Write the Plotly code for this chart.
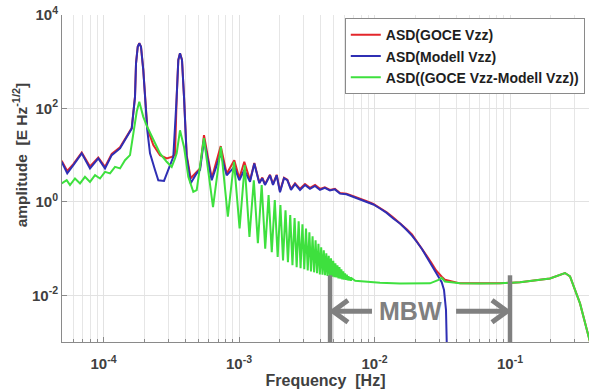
import math
import plotly.graph_objects as go

# ---------------- data ----------------
freq_model = [4.91e-5, 5.40e-5, 5.99e-5, 6.91e-5, 7.95e-5, 9.15e-5, 1.026e-4, 1.15e-4, 1.324e-4,
              1.524e-4, 1.615e-4, 1.708e-4, 1.738e-4, 1.789e-4, 1.837e-4, 1.891e-4, 1.946e-4,
              1.966e-4, 2.105e-4, 2.204e-4, 2.40e-4, 2.538e-4, 2.796e-4, 3.008e-4, 3.275e-4,
              3.469e-4, 3.565e-4, 3.669e-4, 3.796e-4, 3.928e-4, 4.11e-4, 4.40e-4, 4.874e-4,
              5.155e-4, 5.516e-4, 6.29e-4, 7.33e-4, 8.11e-4, 9.23e-4, 1.005e-3, 1.094e-3,
              1.206e-3, 1.297e-3, 1.412e-3, 1.486e-3, 1.556e-3, 1.693e-3, 1.782e-3, 1.897e-3,
              2.007e-3, 2.148e-3, 2.273e-3, 2.42e-3, 2.591e-3, 2.82e-3, 3.07e-3, 3.34e-3,
              3.64e-3, 3.96e-3, 4.30e-3, 4.69e-3, 5.10e-3, 5.565e-3, 6.2e-3, 6.975e-3, 7.8e-3,
              8.76e-3, 9.8e-3, 1.098e-2, 1.23e-2, 1.376e-2, 1.55e-2, 1.728e-2, 1.89e-2,
              2.048e-2, 2.24e-2, 2.428e-2, 2.62e-2, 2.796e-2, 2.98e-2, 3.133e-2, 3.258e-2,
              3.37e-2, 3.43e-2]
amp_model = [7.2, 4.1, 6.1, 10.9, 5.2, 8.5, 5.2, 10.0, 13.9,
             29, 37, 177, 923, 2090, 2480, 2090, 923,
             664, 34, 10.9, 4.8, 2.9, 2.8, 4.8, 9.2,
             177, 1085, 1510, 1085, 177, 9.2, 2.5, 4.1,
             4.8, 21, 2.9, 10.9, 3.7, 5.6, 2.9, 4.8,
             2.7, 6.6, 2.5, 3.2, 2.3, 3.7, 2.3, 3.7,
             1.6, 3.2, 2.9, 1.8, 2.4, 1.8, 2.3, 1.9,
             2.2, 1.8, 2.0, 1.75, 1.85, 1.5, 1.45, 1.28, 1.15,
             1.0, 0.88, 0.72, 0.58, 0.44, 0.34, 0.25, 0.19,
             0.14, 0.098, 0.066, 0.046, 0.032, 0.024, 0.019, 0.013,
             0.0048, 0.0005]

freq_goce = [4.91e-5, 5.40e-5, 5.99e-5, 6.91e-5, 7.95e-5, 9.15e-5, 1.026e-4, 1.15e-4, 1.324e-4,
             1.524e-4, 1.615e-4, 1.708e-4, 1.738e-4, 1.789e-4, 1.837e-4, 1.891e-4, 1.946e-4,
             1.966e-4, 2.105e-4, 2.331e-4, 2.612e-4, 2.927e-4, 3.187e-4, 3.371e-4, 3.469e-4,
             3.565e-4, 3.669e-4, 3.796e-4, 3.928e-4, 4.11e-4, 4.40e-4, 4.874e-4, 5.155e-4,
             5.516e-4, 6.29e-4, 7.33e-4, 8.11e-4, 9.23e-4, 1.005e-3, 1.094e-3, 1.206e-3,
             1.297e-3, 1.412e-3, 1.486e-3, 1.556e-3, 1.693e-3, 1.782e-3, 1.897e-3, 2.007e-3,
             2.148e-3, 2.273e-3, 2.42e-3, 2.591e-3, 2.82e-3, 3.07e-3, 3.34e-3, 3.64e-3,
             3.96e-3, 4.30e-3, 4.69e-3, 5.10e-3, 5.565e-3, 6.2e-3, 6.975e-3, 7.8e-3, 8.76e-3,
             9.8e-3, 1.098e-2, 1.23e-2, 1.376e-2, 1.55e-2, 1.728e-2, 1.89e-2, 2.048e-2,
             2.24e-2, 2.428e-2, 2.62e-2, 2.85e-2, 3.133e-2, 3.31e-2, 4.28e-2, 6.0e-2,
             8.44e-2, 0.1185, 0.1478, 0.1973, 0.2546, 0.2773, 0.3286, 0.3784, 0.45]
amp_goce = [7.6, 4.6, 6.4, 11.3, 5.7, 8.9, 5.6, 10.6, 14.8,
            30, 38, 180, 930, 2100, 2500, 2100, 930,
            670, 38, 16.4, 10.0, 8.5, 9.2, 10.0, 180,
            1090, 1520, 1090, 180, 10.0, 3.2, 4.4, 5.2,
            26.8, 3.2, 15.6, 4.0, 7.8, 3.2, 7.2, 2.9,
            6.8, 2.6, 3.3, 2.4, 3.8, 2.4, 3.8, 1.7,
            3.3, 3.0, 1.9, 2.5, 1.9, 2.4, 2.0, 2.3,
            1.9, 2.05, 1.8, 1.9, 1.55, 1.5, 1.32, 1.18, 1.03,
            0.9, 0.74, 0.6, 0.46, 0.35, 0.26, 0.2, 0.145,
            0.1, 0.07, 0.05, 0.034, 0.025, 0.0215, 0.018, 0.0178,
            0.018, 0.019, 0.0205, 0.0229, 0.030, 0.0255, 0.0067, 0.0015, 0.0002]

freq_diff = [4.91e-5, 5.35e-5, 5.66e-5, 6.16e-5, 6.71e-5, 7.30e-5, 7.95e-5, 8.66e-5, 9.42e-5,
             1.026e-4, 1.117e-4, 1.216e-4, 1.324e-4, 1.441e-4, 1.569e-4, 1.679e-4, 1.758e-4,
             1.837e-4, 1.923e-4, 1.966e-4, 2.105e-4, 2.331e-4, 2.612e-4, 2.927e-4, 3.187e-4,
             3.371e-4, 3.469e-4, 3.669e-4, 3.928e-4, 4.225e-4, 4.60e-4, 4.874e-4,
             5.51e-4, 6.43e-4, 7.35e-4, 8.27e-4, 9.19e-4, 1.010e-3, 1.102e-3, 1.194e-3,
             1.286e-3, 1.378e-3, 1.470e-3, 1.561e-3, 1.653e-3, 1.745e-3, 1.837e-3, 1.929e-3,
             2.021e-3, 2.113e-3, 2.204e-3, 2.296e-3, 2.388e-3, 2.480e-3, 2.572e-3, 2.664e-3,
             2.756e-3, 2.847e-3, 2.939e-3, 3.031e-3, 3.123e-3, 3.215e-3, 3.307e-3, 3.398e-3,
             3.490e-3, 3.582e-3, 3.674e-3, 3.766e-3, 3.858e-3, 3.950e-3, 4.041e-3, 4.133e-3,
             4.225e-3, 4.317e-3, 4.409e-3, 4.501e-3, 4.593e-3, 4.684e-3, 4.776e-3, 4.868e-3,
             4.960e-3, 5.052e-3, 5.144e-3, 5.235e-3, 5.327e-3, 5.419e-3, 5.511e-3, 5.603e-3,
             5.695e-3, 5.787e-3, 5.878e-3, 5.970e-3, 6.062e-3, 6.154e-3, 6.246e-3, 6.338e-3,
             6.430e-3, 6.521e-3, 6.613e-3, 6.705e-3, 6.797e-3,
             7.2e-3, 8.76e-3, 1.098e-2, 1.542e-2, 2.167e-2, 2.568e-2, 2.94e-2, 3.13e-2,
             3.31e-2, 4.28e-2, 6.0e-2, 8.44e-2, 0.1185, 0.1478, 0.1973, 0.2546, 0.2773,
             0.3286, 0.3784, 0.45]
amp_diff = [2.48, 2.91, 2.28, 3.16, 2.48, 3.43, 2.68, 3.73, 3.16,
            4.39, 4.06, 5.6, 5.2, 7.8, 10.0, 34, 85,
            139, 85, 66, 40, 21, 10.9, 7.2, 5.6,
            8.5, 10.9, 34, 15, 3.43, 1.64, 1.78,
            23, 0.77, 15, 0.48, 7.2, 0.27, 6.1, 0.178,
            2.9, 0.13, 2.3, 0.10, 1.39, 0.084, 1.09, 0.066,
            0.85, 0.056, 0.66, 0.051, 0.52, 0.044, 0.45, 0.040,
            0.385, 0.038, 0.33, 0.036, 0.27, 0.034, 0.224, 0.0325,
            0.184, 0.031, 0.151, 0.0296, 0.127, 0.028, 0.107, 0.0275,
            0.092, 0.0268, 0.079, 0.026, 0.070, 0.0255, 0.062, 0.025,
            0.055, 0.0243, 0.0485, 0.024, 0.044, 0.0231, 0.040, 0.0228,
            0.036, 0.022, 0.0327, 0.0217, 0.0296, 0.0214, 0.0275, 0.021,
            0.0255, 0.0207, 0.0243, 0.0205, 0.0231,
            0.0205, 0.0193, 0.0185, 0.0178, 0.0177, 0.0180, 0.021, 0.0237,
            0.0197, 0.018, 0.0178, 0.018, 0.019, 0.0205, 0.0229, 0.030, 0.0255,
            0.0067, 0.0015, 0.0002]

series_names = ["ASD(GOCE Vzz)", "ASD(Modell Vzz)", "ASD((GOCE Vzz-Modell Vzz))"]
x_tick_vals = [1e-4, 1e-3, 1e-2, 1e-1]
x_tick_text = ["10<sup>-4</sup>", "10<sup>-3</sup>", "10<sup>-2</sup>", "10<sup>-1</sup>"]
y_tick_vals = [1e-2, 1e0, 1e2, 1e4]
y_tick_text = ["10<sup>-2</sup>", "10<sup>0</sup>", "10<sup>2</sup>", "10<sup>4</sup>"]
mbw_lo, mbw_hi = 4.7e-3, 0.1          # measurement bandwidth markers [Hz]
mbw_bar_top = 0.0268                   # top of the MBW bars (amplitude units)
mbw_arrow_y = 0.00455                  # height of the MBW arrows
mbw_left_tail, mbw_right_tail = 9.58e-3, 4.0e-2
mbw_label_x = 1.83e-2

# ---------------- figure ----------------
FONT = "Liberation Sans"
GRAY = "#808080"
fig = go.Figure()
fig.add_trace(go.Scatter(x=freq_goce, y=amp_goce, mode="lines", name=series_names[0],
                         line=dict(color="#e3262b", width=2)))
fig.add_trace(go.Scatter(x=freq_model, y=amp_model, mode="lines", name=series_names[1],
                         line=dict(color="#2f2fb4", width=2)))
fig.add_trace(go.Scatter(x=freq_diff, y=amp_diff, mode="lines", name=series_names[2],
                         line=dict(color="#3ee03e", width=2)))

minor_x = [k * 10.0 ** e for e in range(-5, 0) for k in range(2, 10)]

fig.update_layout(
    width=589, height=392, autosize=False,
    margin=dict(l=62, r=0, t=15, b=50, autoexpand=False),
    paper_bgcolor="white", plot_bgcolor="white",
    font=dict(family=FONT, color="#404040"),
    xaxis=dict(type="log", range=[-4.3063, -0.417], automargin=False,
               showline=True, linecolor="#8a8a8a",
               linewidth=1, ticks="inside", ticklen=5, tickcolor="#8a8a8a",
               showgrid=True, gridcolor="#e2e2e2", gridwidth=1, zeroline=False,
               tickmode="array", tickvals=x_tick_vals, ticktext=x_tick_text,
               ticklabelstandoff=8,
               tickfont=dict(family=FONT, size=15, color="#404040", weight="bold"),
               minor=dict(tickmode="array", tickvals=minor_x, ticks="inside", ticklen=3,
                          tickcolor="#8a8a8a", showgrid=True, gridcolor="#e6e6e6"),
               title=dict(text="Frequency&nbsp; [Hz]", standoff=2,
                          font=dict(family=FONT, size=16, color="#404040", weight="bold"))),
    yaxis=dict(type="log", range=[-3, 4], automargin=False,
               showline=True, linecolor="#8a8a8a",
               linewidth=1, ticks="inside", ticklen=5, tickcolor="#8a8a8a",
               showgrid=True, gridcolor="#e2e2e2", gridwidth=1, zeroline=False,
               tickmode="array", tickvals=y_tick_vals, ticktext=y_tick_text,
               tickfont=dict(family=FONT, size=15, color="#404040", weight="bold")),
    legend=dict(x=0.992, y=0.99, xanchor="right", yanchor="top",
                bgcolor="white", bordercolor="#8a8a8a", borderwidth=1,
                font=dict(family=FONT, size=14, color="#1e1e1e", weight="bold"),
                itemwidth=30, tracegroupgap=0),
    showlegend=True,
)

# y axis title, placed as in the reference
fig.add_annotation(text="amplitude&nbsp; [E Hz<sup>-1/2</sup>]", textangle=-90,
                   xref="paper", yref="paper", x=-0.079, y=0.572,
                   xanchor="center", yanchor="middle", showarrow=False,
                   font=dict(family=FONT, size=15.5, color="#404040", weight="bold"))

# MBW bars
for xb in (mbw_lo, mbw_hi):
    fig.add_shape(type="line", xref="x", yref="y", x0=xb, x1=xb, y0=1e-3, y1=mbw_bar_top,
                  line=dict(color=GRAY, width=4.5))
# arrow shafts
fig.add_shape(type="line", xref="x", yref="y", x0=mbw_lo * 1.05, x1=mbw_left_tail,
              y0=mbw_arrow_y, y1=mbw_arrow_y, line=dict(color=GRAY, width=5))
fig.add_shape(type="line", xref="x", yref="y", x0=mbw_right_tail, x1=mbw_hi * 0.95,
              y0=mbw_arrow_y, y1=mbw_arrow_y, line=dict(color=GRAY, width=5))
# arrow heads (pixel sized chevrons)
fig.add_shape(type="path", xref="x", yref="y", xsizemode="pixel", ysizemode="pixel",
              xanchor=mbw_lo * 1.05, yanchor=mbw_arrow_y, path="M 15 11 L 0 0 L 15 -11",
              line=dict(color=GRAY, width=5))
fig.add_shape(type="path", xref="x", yref="y", xsizemode="pixel", ysizemode="pixel",
              xanchor=mbw_hi * 0.95, yanchor=mbw_arrow_y, path="M -15 11 L 0 0 L -15 -11",
              line=dict(color=GRAY, width=5))
fig.add_annotation(x=math.log10(mbw_label_x), y=math.log10(mbw_arrow_y), xref="x", yref="y",
                   text="MBW", showarrow=False,
                   font=dict(family=FONT, size=25, color=GRAY, weight="bold"))

fig.write_html("out.html", config={"displayModeBar": False},
               post_script="document.body.style.margin='0';document.body.style.overflow='hidden';")
